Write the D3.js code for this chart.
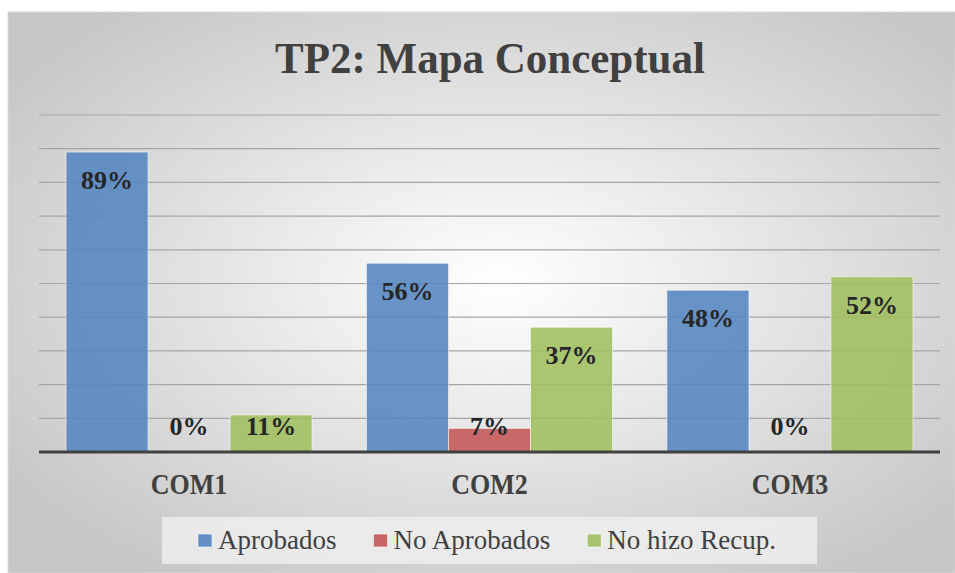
<!DOCTYPE html>
<html>
<head>
<meta charset="utf-8">
<script src="https://cdn.jsdelivr.net/npm/d3@7"></script>
<style>
  body { margin: 0; background: #fff; }
  svg text { font-family: "Liberation Serif"; }
</style>
</head>
<body>
<div id="chart"></div>
<script>
// Chart data
const categories = ['COM1', 'COM2', 'COM3'];
const seriesNames = ['Aprobados', 'No Aprobados', 'No hizo Recup.'];
const aprobados = [0.89, 0.56, 0.48];
const noAprobados = [0.00, 0.07, 0.00];
const noHizoRecup = [0.11, 0.37, 0.52];
const gridTicks = [0, 0.1, 0.2, 0.3, 0.4, 0.5, 0.6, 0.7, 0.8, 0.9, 1.0];

const seriesValues = [aprobados, noAprobados, noHizoRecup];
const colors = ['#5485C0', '#C45658', '#9FBF5F'];
const fontName = 'Liberation Serif';

const width = 955, height = 573;

const svg = d3.select('#chart')
  .append('svg')
  .attr('width', width)
  .attr('height', height);

// background gradient
const defs = svg.append('defs');
const grad = defs.append('radialGradient')
  .attr('id', 'bg')
  .attr('cx', '52%').attr('cy', '48%').attr('r', '64%');
grad.append('stop').attr('offset', '0%').attr('stop-color', '#ffffff');
grad.append('stop').attr('offset', '100%').attr('stop-color', '#c6c6c6');

svg.append('rect')
  .attr('x', 8).attr('y', 12)
  .attr('width', width - 8).attr('height', height - 12)
  .attr('fill', 'url(#bg)')
  .attr('stroke', '#d9d9d9');

// title
svg.append('text')
  .attr('transform', 'translate(490,73) scale(1,1.03)')
  .attr('text-anchor', 'middle')
  .attr('font-family', fontName)
  .attr('font-size', 43)
  .attr('font-weight', 'bold')
  .attr('fill', '#404040')
  .text('TP2: Mapa Conceptual');

// scales
const x0 = d3.scaleBand()
  .domain(categories)
  .range([39, 940])
  .paddingInner(0.181)
  .paddingOuter(0.09);

const x1 = d3.scaleBand()
  .domain(seriesNames)
  .range([0, x0.bandwidth()]);

const y = d3.scaleLinear()
  .domain([0, 1])
  .range([452, 115]);

// gridlines
svg.append('g')
  .selectAll('line')
  .data(gridTicks.slice(1))
  .join('line')
  .attr('x1', 39).attr('x2', 940)
  .attr('y1', d => y(d)).attr('y2', d => y(d))
  .attr('stroke', '#a6a6a6')
  .attr('stroke-width', 1.2);

// bars
const rows = [];
categories.forEach((c, i) => {
  seriesNames.forEach((s, j) => {
    rows.push({ cat: c, series: s, idx: j, value: seriesValues[j][i] });
  });
});

const barG = svg.append('g');
barG.selectAll('rect')
  .data(rows)
  .join('rect')
  .attr('x', d => x0(d.cat) + x1(d.series))
  .attr('y', d => y(d.value))
  .attr('width', x1.bandwidth())
  .attr('height', d => y(0) - y(d.value))
  .attr('fill', d => colors[d.idx])
  .attr('fill-opacity', 0.88)
  .attr('stroke', 'rgba(255,255,255,0.55)')
  .attr('stroke-width', 1);

// data labels
barG.selectAll('text')
  .data(rows)
  .join('text')
  .attr('x', d => x0(d.cat) + x1(d.series) + x1.bandwidth() / 2)
  .attr('y', d => Math.min(y(d.value) + 37, y(0) - 17))
  .attr('text-anchor', 'middle')
  .attr('font-family', fontName)
  .attr('font-size', 26)
  .attr('font-weight', 'bold')
  .attr('fill', '#262626')
  .text(d => Math.round(d.value * 100) + '%');

// x axis baseline
svg.append('line')
  .attr('x1', 39).attr('x2', 940)
  .attr('y1', y(0)).attr('y2', y(0))
  .attr('stroke', '#404040')
  .attr('stroke-width', 3);

// category labels
svg.append('g')
  .selectAll('text')
  .data(categories)
  .join('text')
  .attr('transform', d => 'translate(' + (x0(d) + x0.bandwidth() / 2) + ',494) scale(1,1.12)')
  .attr('text-anchor', 'middle')
  .attr('font-family', fontName)
  .attr('font-size', 26)
  .attr('font-weight', 'bold')
  .attr('fill', '#404040')
  .text(d => d);

// legend
svg.append('rect')
  .attr('x', 162).attr('y', 517)
  .attr('width', 655).attr('height', 47)
  .attr('fill', '#f2f2f2')
  .attr('fill-opacity', 0.75);

const legend = svg.append('g');
let lx = 198;
seriesNames.forEach((s, j) => {
  legend.append('rect')
    .attr('x', lx).attr('y', 534)
    .attr('width', 14).attr('height', 13)
    .attr('fill', colors[j])
    .attr('fill-opacity', 0.9)
    .attr('stroke', 'rgba(255,255,255,0.6)');
  const t = legend.append('text')
    .attr('x', lx + 20).attr('y', 549)
    .attr('font-family', fontName)
    .attr('font-size', 27)
    .attr('fill', '#404040')
    .text(s);
  lx += 20 + t.node().getComputedTextLength() + 37;
});
</script>
</body>
</html>
